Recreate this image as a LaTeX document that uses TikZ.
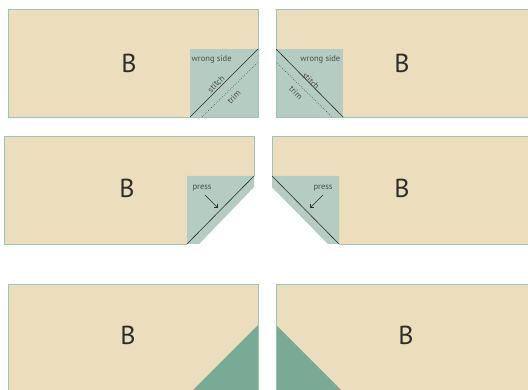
\documentclass[tikz,border=0pt]{standalone}
\usepackage{fontspec}
\setmainfont{PT Sans}
\usetikzlibrary{arrows.meta}

\definecolor{fabric}{RGB}{236,221,189}
\definecolor{seam}{RGB}{155,197,180}
\definecolor{patch}{RGB}{180,204,194}
\definecolor{corner}{RGB}{120,170,150}
\definecolor{ink}{RGB}{45,45,45}

\begin{document}
\begin{tikzpicture}[x=1pt, y=-1pt,
    edge/.style={draw=seam, line width=0.9pt},
    patchfill/.style={fill=patch},
    stitchline/.style={ink, line width=0.6pt},
    trimline/.style={ink, line width=0.5pt, dash pattern=on 0.6pt off 1.6pt},
    blocktext/.style={font=\fontsize{26}{26}\selectfont, text=ink},
    note/.style={font=\fontsize{8.5}{8.5}\selectfont, text=ink!85, inner sep=0.5pt},
    pressarrow/.style={-{Straight Barb[angle=90:4pt]}, ink, line width=0.6pt}]
  \useasboundingbox (0,0) rectangle (528,390);
  \clip (0,0) rectangle (528,390);

  % row 1: square laid on the corner
  \fill[fabric] (8,9) rectangle (258,117);
  \fill[patchfill] (190,49) rectangle (258,117);
  \draw[edge] (8,9) rectangle (258,117);
  \draw[stitchline] (190,117) -- (258,49);
  \draw[trimline] (202,117) -- (258,62);
  \node[blocktext] (B1) at (129,63) {B};
  \node[note, anchor=west] (ws1) at (191,59) {wrong side};
  \node[note, rotate=45] (st1) at (216,84) {stitch};
  \node[note, rotate=45] (tr1) at (234,97) {trim};

  \fill[fabric] (276,9) rectangle (540,117);
  \fill[patchfill] (276,49) rectangle (343,117);
  \draw[edge] (276,9) rectangle (540,117);
  \draw[stitchline] (276,49) -- (343,117);
  \draw[trimline] (276,62) -- (332,117);
  \node[blocktext] (B2) at (402,63) {B};
  \node[note, anchor=east] (ws2) at (341,59) {wrong side};
  \node[note, rotate=-45] (st2) at (311,81) {stitch};
  \node[note, rotate=-45] (tr2) at (296,93) {trim};

  % row 2: trimmed and pressed
  \fill[fabric] (4,136) -- (254,136) -- (254,187) -- (199,244) -- (4,244) -- cycle;
  \fill[patchfill] (187,176) -- (254,176) -- (254,187) -- (199,244) -- (187,244) -- cycle;
  \draw[edge] (254,176) -- (254,136) -- (4,136) -- (4,244) -- (187,244);
  \draw[stitchline] (187,244) -- (254,176);
  \node[blocktext] (B3) at (127,188) {B};
  \node[note] (pr1) at (202,188) {press};
  \coordinate (p1a) at (205,195);
  \coordinate (p1b) at (218,208);
  \draw[pressarrow] (p1a) -- (p1b);

  \fill[fabric] (272,136) -- (540,136) -- (540,244) -- (328,244) -- (272,187) -- cycle;
  \fill[patchfill] (272,176) -- (339,176) -- (339,244) -- (328,244) -- (272,187) -- cycle;
  \draw[edge] (272,176) -- (272,136) -- (540,136);
  \draw[edge] (339,244) -- (540,244);
  \draw[stitchline] (272,176) -- (339,244);
  \node[blocktext] (B4) at (402,188) {B};
  \node[note] (pr2) at (323,188) {press};
  \coordinate (p2a) at (323,195);
  \coordinate (p2b) at (310,208);
  \draw[pressarrow] (p2a) -- (p2b);

  % row 3: finished corners
  \fill[fabric] (8,284) rectangle (258,393);
  \fill[corner] (258,325) -- (258,393) -- (190,393) -- cycle;
  \draw[edge] (8,284) rectangle (258,393);
  \node[blocktext] (B5) at (128,335) {B};

  \fill[fabric] (276,284) rectangle (540,393);
  \fill[corner] (276,325) -- (276,393) -- (344,393) -- cycle;
  \draw[edge] (276,284) rectangle (540,393);
  \node[blocktext] (B6) at (406,335) {B};
\end{tikzpicture}
\end{document}
